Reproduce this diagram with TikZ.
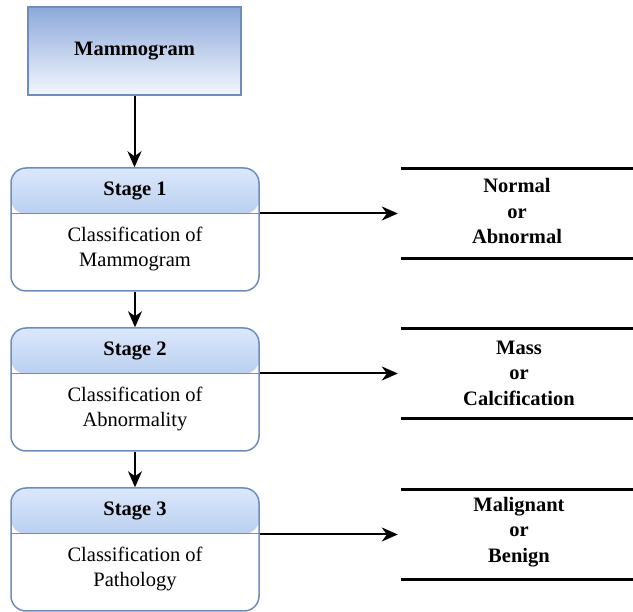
\documentclass[tikz,border=0pt]{standalone}
\usepackage{fontspec}
\setmainfont{LiberationSerif}[Extension=.ttf, UprightFont=*-Regular, BoldFont=*-Bold, ItalicFont=*-Italic, BoldItalicFont=*-BoldItalic]
\usetikzlibrary{arrows.meta}
\definecolor{bord}{HTML}{6C8EBF}
\definecolor{mtop}{HTML}{8DA9DB}
\definecolor{mbot}{HTML}{F3F7FD}
\definecolor{htop}{HTML}{DCE8FB}
\definecolor{hbot}{HTML}{7FA5DD}
\begin{document}
\begin{tikzpicture}[x=1pt,y=-1pt,
  every node/.style={font=\fontsize{20.5}{25.5}\selectfont, inner sep=0pt, align=center},
  topbox/.style={draw=bord, line width=1.5pt, top color=mtop, bottom color=mbot, minimum width=213pt, minimum height=88pt},
  stagebox/.style={draw=bord, line width=1.5pt, rounded corners=15pt, fill=white, minimum width=248pt, minimum height=123pt,
    path picture={
      \shade[top color=htop,bottom color=hbot] (path picture bounding box.north west) rectangle ([yshift=-46pt]path picture bounding box.north east);
      \draw[bord, line width=1pt] ([yshift=-46pt]path picture bounding box.north west) -- ([yshift=-46pt]path picture bounding box.north east);}},
  resbox/.style={minimum width=232pt, minimum height=89pt},
  resline/.style={line width=3pt},
  arr/.style={-{Stealth[length=16pt,width=14pt,inset=5pt]}, line width=2pt},
  hd/.style={font=\fontsize{20.5}{25.5}\selectfont\bfseries}]
\useasboundingbox (0,0) rectangle (633,612);

\node[topbox] (m) at (134.5,51) {\bfseries Mammogram};

\node[stagebox] (s1) at (135,229.5) {};
\node[hd] (h1) at (135,191) {Stage 1};
\node (b1) at (135,249) {Classification of\\Mammogram};

\node[stagebox] (s2) at (135,389.5) {};
\node[hd] (h2) at (135,351) {Stage 2};
\node (b2) at (135,409) {Classification of\\Abnormality};

\node[stagebox] (s3) at (135,549.5) {};
\node[hd] (h3) at (135,511) {Stage 3};
\node (b3) at (135,569) {Classification of\\Pathology};

\node[resbox] (r1) at (517,213.5) {};
\node[hd] (t1) at (517,211) {Normal\\or\\Abnormal};
\node[resbox] (r2) at (517,373.5) {};
\node[hd] (t2) at (519,373) {Mass\\or\\Calcification};
\node[resbox] (r3) at (517,534.5) {};
\node[hd] (t3) at (519,532) {Malignant\\or\\Benign};

\foreach \r in {r1,r2,r3}{
  \draw[resline] (\r.north west) -- (\r.north east);
  \draw[resline] (\r.south west) -- (\r.south east);
}

\draw[arr] (m.south) -- (m.south |- s1.north);
\draw[arr] (s1.south) -- (s2.north);
\draw[arr] (s2.south) -- (s3.north);

\draw[arr, shorten >=3pt] (r1.west -| s1.east) -- (r1.west);
\draw[arr, shorten >=3pt] (r2.west -| s2.east) -- (r2.west);
\draw[arr, shorten >=3pt] (r3.west -| s3.east) -- (r3.west);
\end{tikzpicture}
\end{document}
